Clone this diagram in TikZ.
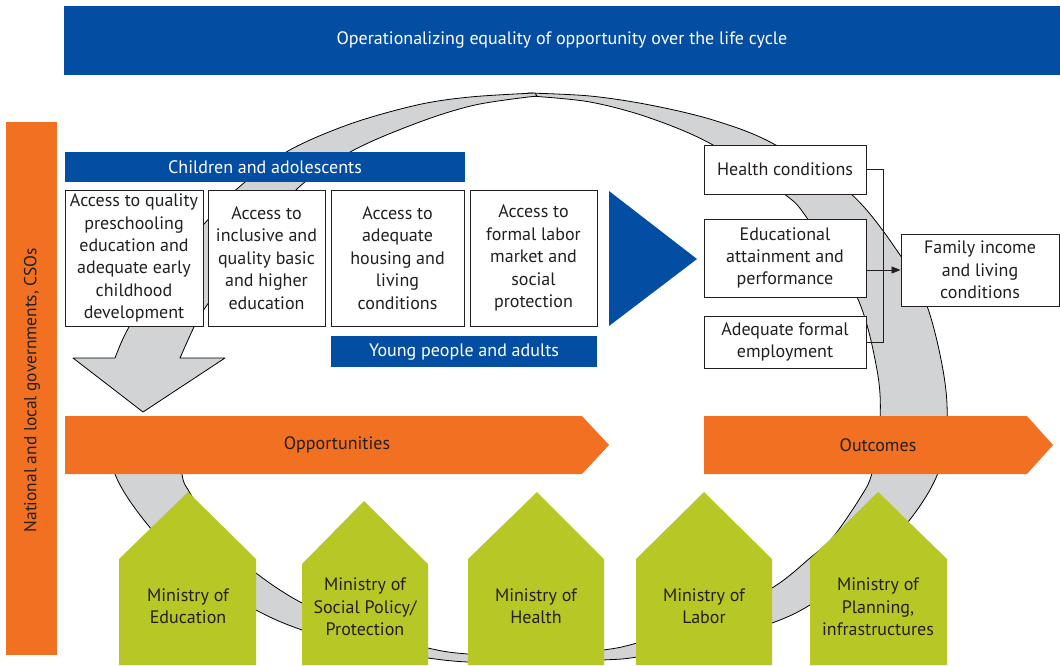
\documentclass[tikz,border=0pt]{standalone}
\usepackage{fontspec}
\setmainfont{PT Sans}
\usetikzlibrary{arrows.meta}
\definecolor{ublue}{RGB}{3,78,162}
\definecolor{uorange}{RGB}{242,112,33}
\definecolor{ugreen}{RGB}{183,200,38}
\definecolor{ugrey}{RGB}{209,211,212}
\definecolor{utext}{RGB}{35,31,32}
\begin{document}
\begin{tikzpicture}[x=1pt,y=-1pt,
  every node/.style={font=\fontsize{18}{22.4}\selectfont, text=utext, inner sep=0pt},
  wbox/.style={draw=utext, line width=0.9pt, fill=white, align=center},
  bluelabel/.style={text=white},
  ring/.style={fill=ugrey, draw=black, line width=0.8pt, line join=round},
  house/.style={fill=ugreen},
  orangebar/.style={fill=uorange},
  conn/.style={draw=utext, line width=0.8pt}
]
\useasboundingbox (0,0) rectangle (1060,665);

% ring, tail piece
\path[ring] plot[smooth, tension=0.55] coordinates {(112,420) (115,474) (152,530) (200,575) (256,610) (302,630) (365,648) (428,658) (468,662) (535,663) (603,660) (637,657) (705,643) (772,623) (810,605) (860,570) (908,522) (938,473) (947,420) (943,370) (927,306) (900,255) (850,193) (772,143) (713,120) (650,105) (590,96) (528,93)}
  -- plot[smooth, tension=0.55] coordinates {(530,96) (590,102) (650,118) (713,145) (783,193) (807,218) (857,297) (877,370) (880,420) (872,473) (860,498) (833,537) (810,558) (772,588) (705,622) (637,643) (603,650) (535,656) (468,654) (428,648) (365,630) (302,603) (256,573) (220,540) (190,493) (182,474) (178,420)} -- cycle;
% ring, arrow piece
\path[ring] plot[smooth, tension=0.55] coordinates {(535,93) (470,97) (417,105) (350,124) (288,151) (238,188) (205,223) (165,272) (129,327) (115,358)}
  -- (73,358) -- (143,412) -- (225,358) -- (180,358)
  -- plot[smooth, tension=0.55] coordinates {(180,358) (194,327) (205,308) (250,245) (298,188) (352,151) (417,123) (475,105) (537,96)} -- cycle;

% top banner
\fill[ublue] (64,6) rectangle (1060,75);
\node[bluelabel] (title) at (562,40) {Operationalizing equality of opportunity over the life cycle};

% left bar
\fill[uorange] (6,122) rectangle (57,655);
\node[rotate=90, font=\fontsize{17.4}{22.4}\selectfont] (actors) at (32,390) {National and local governments, CSOs};

% children bar
\fill[ublue] (65,152) rectangle (465,182);
\node[bluelabel] (children) at (265,167) {Children and adolescents};

% opportunity boxes
\node[wbox, minimum width=138pt, minimum height=136pt] (b1) at (134,258) {Access to quality\\preschooling\\education and\\adequate early\\childhood\\development};
\node[wbox, minimum width=117pt, minimum height=136pt] (b2) at (266.5,258) {Access to\\inclusive and\\quality basic\\and higher\\education};
\node[wbox, minimum width=133pt, minimum height=136pt] (b3) at (397.5,258) {Access to\\adequate\\housing and\\living\\conditions};
\node[wbox, minimum width=127pt, minimum height=136pt] (b4) at (533.5,258) {Access to\\formal labor\\market and\\social\\protection};

% young people bar
\fill[ublue] (331,336) rectangle (597,367);
\node[bluelabel] (young) at (464,352) {Young people and adults};

% blue triangle
\fill[ublue] (609,191) -- (697,259) -- (609,326) -- cycle;

% outcome boxes
\node[wbox, minimum width=162pt, minimum height=49pt] (hc) at (785,169.5) {Health conditions};
\node[wbox, minimum width=162pt, minimum height=78pt] (ea) at (785,258) {Educational\\attainment and\\performance};
\node[wbox, minimum width=162pt, minimum height=52pt] (af) at (785,342) {Adequate formal\\employment};
\node[wbox, minimum width=158pt, minimum height=72pt] (fi) at (980,270) {Family income\\and living\\conditions};
\draw[conn] (hc.east) -- ++(17,0) |- (af.east);
\draw[conn, -{Triangle[length=9pt,width=7pt]}] (fi.west -| ea.east) -- (fi.west);

% orange arrows
\fill[uorange] (65,416) -- (582,416) -- (609,445) -- (582,474) -- (65,474) -- cycle;
\node (opp) at (337,445) {Opportunities};
\fill[uorange] (704,416) -- (1027,416) -- (1053,445) -- (1027,474) -- (704,474) -- cycle;
\node (out) at (878,445) {Outcomes};

% ministries
\fill[house] (119,665) -- (119,559) -- (188,492) -- (256,559) -- (256,665) -- cycle;
\node[align=center] (m1) at (188,606) {Ministry of\\Education};
\fill[house] (302,665) -- (302,564) -- (364,501) -- (428,564) -- (428,665) -- cycle;
\node[align=center] (m2) at (365,607) {Ministry of\\Social Policy/\\Protection};
\fill[house] (468,665) -- (468,559) -- (537,492) -- (604,559) -- (604,665) -- cycle;
\node[align=center] (m3) at (536,606) {Ministry of\\Health};
\fill[house] (636,665) -- (636,559) -- (704,492) -- (772,559) -- (772,665) -- cycle;
\node[align=center] (m4) at (704,606) {Ministry of\\Labor};
\fill[house] (810,665) -- (810,559) -- (878,492) -- (947,559) -- (947,665) -- cycle;
\node[align=center] (m5) at (878,607) {Ministry of\\Planning,\\infrastructures};
\end{tikzpicture}
\end{document}
